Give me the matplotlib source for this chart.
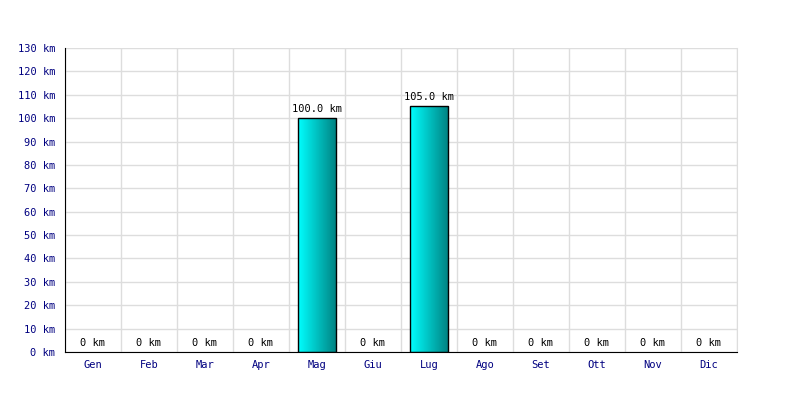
import numpy as np
import matplotlib.pyplot as plt
from matplotlib.colors import LinearSegmentedColormap

months = ["Gen", "Feb", "Mar", "Apr", "Mag", "Giu",
          "Lug", "Ago", "Set", "Ott", "Nov", "Dic"]
km = [0, 0, 0, 0, 100.0, 0, 105.0, 0, 0, 0, 0, 0]
yticks = list(range(0, 131, 10))

plt.rcParams["font.family"] = ["DejaVu Sans Mono"]

fig = plt.figure(figsize=(8, 4), dpi=100)
ax = fig.add_axes([0.08125, 0.12, 0.84, 0.76])

x = np.arange(len(months))
bars = ax.bar(x, km, width=0.68, color="none", edgecolor="black",
              linewidth=1.0, zorder=3)

cmap = LinearSegmentedColormap.from_list("cy", ["#00ffff", "#008080"])
grad = np.linspace(0, 1, 256).reshape(1, -1)
for b in bars:
    h = b.get_height()
    if h <= 0:
        b.set_linewidth(0)
        continue
    x0 = b.get_x()
    ax.imshow(grad, cmap=cmap, aspect="auto", zorder=2,
              extent=[x0, x0 + b.get_width(), 0, h])

for xi, v in zip(x, km):
    txt = "0 km" if v == 0 else f"{v:.1f} km"
    ax.annotate(txt, (xi, v), xytext=(0, 3), textcoords="offset points",
                ha="center", va="bottom", fontsize=7.5, color="black")

ax.set_xlim(-0.5, len(months) - 0.5)
ax.set_ylim(0, 130)
ax.set_yticks(yticks)
ax.set_yticklabels([f"{t} km" for t in yticks])
ax.set_xticks(x)
ax.set_xticklabels(months)
ax.set_xticks(np.arange(-0.5, len(months)), minor=True)
ax.tick_params(axis="both", which="both", length=0, labelsize=7.5,
               labelcolor="#000080")
ax.tick_params(axis="y", pad=7)
ax.tick_params(axis="x", pad=6)

ax.grid(axis="y", which="major", color="#dddddd", linewidth=1, zorder=0)
ax.grid(axis="x", which="minor", color="#dddddd", linewidth=1, zorder=0)
ax.set_axisbelow(True)

ax.spines["top"].set_visible(False)
ax.spines["right"].set_color("#dddddd")
ax.spines["left"].set_color("black")
ax.spines["bottom"].set_color("black")

fig.savefig("out.png", dpi=100)
